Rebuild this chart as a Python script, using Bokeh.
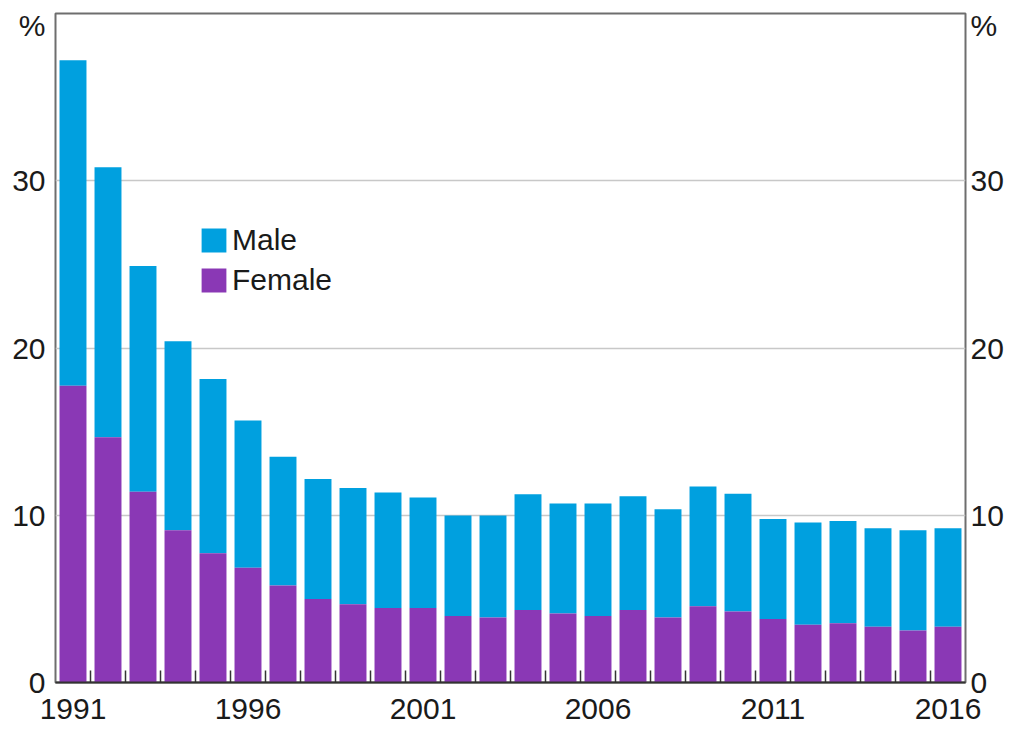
from bokeh.plotting import figure
from bokeh.models import (Range1d, FixedTicker, LinearAxis, Legend, LegendItem,
                          ColumnDataSource, Grid)
from bokeh.embed import file_html
from bokeh.resources import INLINE

years = list(range(1991, 2017))
female = [17.75, 14.66, 11.4, 9.1, 7.73, 6.86, 5.8, 5.0, 4.68, 4.46, 4.46, 3.98, 3.88,
          4.34, 4.12, 3.98, 4.34, 3.88, 4.56, 4.24, 3.79, 3.45, 3.55, 3.33, 3.11, 3.33]
total = [37.2, 30.8, 24.9, 20.4, 18.15, 15.66, 13.5, 12.17, 11.63, 11.36, 11.06, 9.98, 9.98,
         11.26, 10.7, 10.7, 11.14, 10.36, 11.72, 11.28, 9.78, 9.56, 9.66, 9.22, 9.1, 9.22]
male = [round(t - f, 2) for t, f in zip(total, female)]
y_ticks = [0, 10, 20, 30]
unit_tick = 39.3
unit_label = "%"
x_label_years = [1991, 1996, 2001, 2006, 2011, 2016]

BLUE = "#00A0DF"
PURPLE = "#8A38B5"
FONT = "Liberation Sans"
FS = "30px"
TXT = "#1a1a1a"

source = ColumnDataSource(dict(year=years, female=female, male=male))

p = figure(width=1009, height=729, output_backend="svg", toolbar_location=None,
           x_range=Range1d(1990.5, 2016.5), y_range=Range1d(0, 40),
           min_border_left=55, min_border_right=44, min_border_top=13, min_border_bottom=47,
           x_axis_location=None, y_axis_location=None)

p.outline_line_color = "#6e6e6e"
p.outline_line_width = 2
p.background_fill_color = "white"
p.border_fill_color = "white"

renderers = p.vbar_stack(["female", "male"], x="year", width=0.77,
                         color=[PURPLE, BLUE], line_color=None, source=source)

p.xgrid.grid_line_color = None
p.ygrid.grid_line_color = None

# y axes (with unit label at the top)
for side in ["left", "right"]:
    ax = LinearAxis(ticker=FixedTicker(ticks=y_ticks + [unit_tick]))
    ax.major_label_overrides = {unit_tick: unit_label}
    ax.axis_line_color = None
    ax.major_tick_line_color = None
    ax.major_tick_in = 0
    ax.major_tick_out = 0
    ax.minor_tick_line_color = None
    ax.minor_tick_in = 0
    ax.minor_tick_out = 0
    ax.major_label_text_font = FONT
    ax.major_label_text_font_size = FS
    ax.major_label_text_color = TXT
    ax.major_label_standoff = 10 if side == "left" else 5
    p.add_layout(ax, side)

# horizontal grid lines
g = Grid(dimension=1, ticker=FixedTicker(ticks=[10, 20, 30]))
g.grid_line_color = "#c8c8c8"
g.grid_line_width = 1.5
p.add_layout(g)
p.renderers.insert(0, p.renderers.pop())

# x axis
xa = LinearAxis(ticker=FixedTicker(ticks=x_label_years,
                                   minor_ticks=[y + 0.5 for y in years[:-1]]))
xa.axis_line_color = "#333333"
xa.axis_line_width = 2
xa.major_tick_line_color = None
xa.major_tick_in = 0
xa.major_tick_out = 0
xa.minor_tick_line_color = "#333333"
xa.minor_tick_line_width = 1.5
xa.minor_tick_in = 12
xa.minor_tick_out = 0
xa.major_label_text_font = FONT
xa.major_label_text_font_size = FS
xa.major_label_text_color = TXT
xa.major_label_standoff = 16
p.add_layout(xa, "below")

# legend
legend = Legend(items=[LegendItem(label="Male", renderers=[renderers[1]]),
                       LegendItem(label="Female", renderers=[renderers[0]])],
                location=(143, 385), orientation="vertical")
legend.glyph_width = 31
legend.glyph_height = 30
legend.label_standoff = 3
legend.spacing = 6
legend.padding = 0
legend.margin = 0
legend.border_line_color = None
legend.background_fill_alpha = 0
legend.label_text_font = FONT
legend.label_text_font_size = FS
legend.label_text_color = TXT
p.add_layout(legend)

open("out.html", "w").write(file_html(p, INLINE))
